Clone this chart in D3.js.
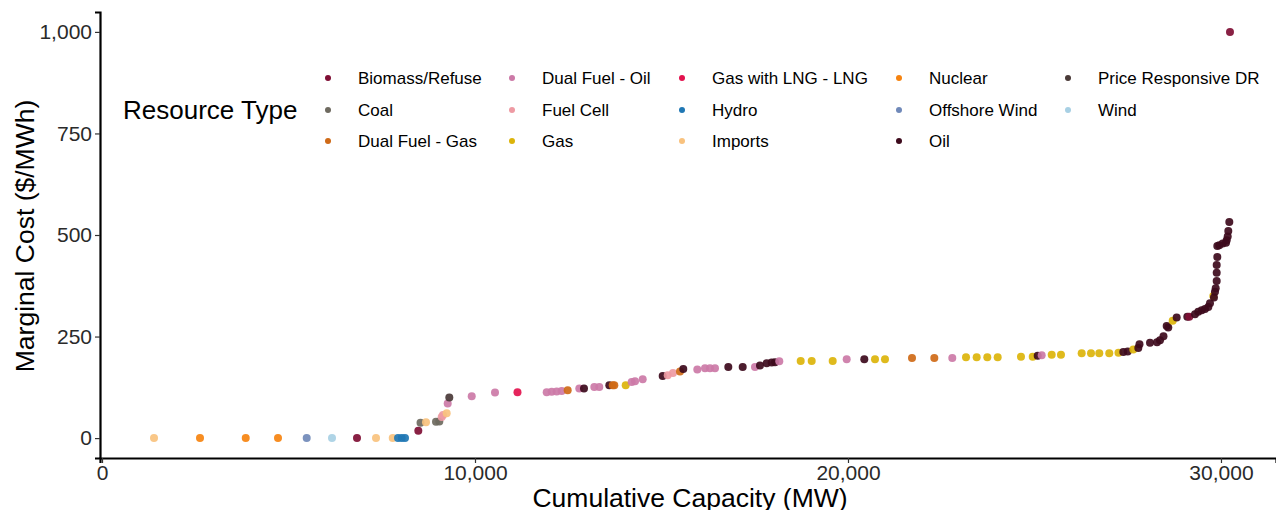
<!DOCTYPE html>
<html>
<head>
<meta charset="utf-8">
<script src="https://cdn.jsdelivr.net/npm/d3@7"></script>
<style>
  html, body { margin: 0; padding: 0; background: #fff; }
  svg { display: block; font-family: "Liberation Sans", Arial, sans-serif; }
</style>
</head>
<body>
<svg id="chart" width="1276" height="510"></svg>
<script>
// Supply stack: resource types in legend order with their colours
const resourceTypes = ["Biomass/Refuse", "Coal", "Dual Fuel - Gas", "Dual Fuel - Oil", "Fuel Cell", "Gas",
  "Gas with LNG - LNG", "Hydro", "Imports", "Nuclear", "Offshore Wind", "Oil", "Price Responsive DR", "Wind"];
const typeColors = ["#7f0e34", "#6e6a60", "#cf6a17", "#cc79a7", "#ee9aa3", "#dcb40a",
  "#e3124e", "#1f77b4", "#f9c27e", "#f6830f", "#7089b9", "#3d0a1c", "#4a3a38", "#a8d0e4"];

// Each unit: cumulative capacity (MW), marginal cost ($/MWh), resource type
const capacityMW = [
  1394, 2627, 3853, 4718, 5488, 6166, 6836, 7346, 7794, 7936, 8035, 8123,
  8480, 8539, 8686, 8954, 9043, 9107, 9142, 9241, 9268, 9311,
  9912, 10536, 11139, 11922, 12056, 12190, 12324, 12485, 12796, 12922,
  13198, 13332, 13601, 13692, 13735, 14040, 14201, 14290, 14496,
  15032, 15166, 15308, 15496, 15584, 15960, 16166, 16300, 16434,
  16791, 17177, 17507, 17641, 17820, 17954, 18043, 18158,
  18732, 19027, 19590, 19965, 20437, 20724, 20992,
  21716, 22314, 22796, 23164, 23450, 23735, 24013, 24638, 24952,
  25086, 25193, 25461, 25710, 26265, 26515, 26737, 27005, 27252,
  27381, 27499, 27649, 27783, 27815, 28097, 28284, 28365, 28458,
  28544, 28587, 28705, 28812, 29097, 29150, 29303, 29391, 29483,
  29571, 29660, 29705, 29794, 29812, 29839, 29858, 29885, 29885,
  29885, 29901, 29901, 29954, 30046, 30134, 30153, 30180, 30196, 30223,
  30241
];
const marginalCost = [
  0, 0, 0, 0, 0, 0, 0, 0, 0, 0, 0, 0,
  18, 38, 39, 40, 41, 52, 57, 61, 85, 100,
  103, 112, 113, 113, 114, 115, 116, 118, 122, 122,
  126, 126, 130, 130, 130, 130, 138, 140, 145,
  153, 155, 160, 164, 170, 169, 172, 172, 172,
  175, 175, 175, 179, 184, 186, 187, 189,
  190, 190, 190, 194, 194, 194, 194,
  197, 197, 197, 199, 199, 199, 199, 200, 200,
  203, 204, 205, 205, 209, 209, 209, 209, 210,
  212, 213, 218, 222, 231, 235, 236, 241, 251,
  276, 272, 289, 297, 299, 299, 305, 311, 315,
  318, 323, 332, 350, 346, 360, 369, 387, 407,
  426, 446, 473, 475, 479, 481, 487, 496, 510, 532,
  1000
];
const resource = [
  "Imports", "Nuclear", "Nuclear", "Nuclear", "Offshore Wind", "Wind", "Biomass/Refuse", "Imports", "Imports", "Hydro", "Hydro", "Hydro",
  "Biomass/Refuse", "Coal", "Imports", "Coal", "Coal", "Fuel Cell", "Fuel Cell", "Imports", "Dual Fuel - Oil", "Price Responsive DR",
  "Dual Fuel - Oil", "Dual Fuel - Oil", "Gas with LNG - LNG", "Dual Fuel - Oil", "Dual Fuel - Oil", "Dual Fuel - Oil", "Dual Fuel - Oil", "Dual Fuel - Gas", "Dual Fuel - Oil", "Oil",
  "Dual Fuel - Oil", "Dual Fuel - Oil", "Oil", "Dual Fuel - Gas", "Dual Fuel - Gas", "Gas", "Dual Fuel - Oil", "Dual Fuel - Oil", "Dual Fuel - Oil",
  "Oil", "Fuel Cell", "Fuel Cell", "Dual Fuel - Gas", "Oil", "Dual Fuel - Oil", "Dual Fuel - Oil", "Dual Fuel - Oil", "Dual Fuel - Oil",
  "Oil", "Oil", "Dual Fuel - Oil", "Oil", "Oil", "Oil", "Oil", "Dual Fuel - Oil",
  "Gas", "Gas", "Gas", "Dual Fuel - Oil", "Oil", "Gas", "Gas",
  "Dual Fuel - Gas", "Dual Fuel - Gas", "Dual Fuel - Oil", "Gas", "Gas", "Gas", "Gas", "Gas", "Gas",
  "Oil", "Dual Fuel - Oil", "Gas", "Gas", "Gas", "Gas", "Gas", "Gas", "Gas",
  "Oil", "Oil", "Gas", "Oil", "Oil", "Oil", "Oil", "Oil", "Oil",
  "Oil", "Oil", "Gas", "Oil", "Oil", "Biomass/Refuse", "Oil", "Oil", "Oil",
  "Oil", "Oil", "Oil", "Gas", "Oil", "Oil", "Oil", "Oil", "Oil",
  "Oil", "Oil", "Oil", "Oil", "Oil", "Oil", "Oil", "Oil", "Oil", "Oil",
  "Biomass/Refuse"
];

const xTicks = [0, 10000, 20000, 30000];
const yTicks = [0, 250, 500, 750, 1000];

const svg = d3.select("#chart");

const x = d3.scaleLinear().domain([-54, 31475]).range([100, 1276]);
const y = d3.scaleLinear().domain([-49, 1049]).range([458, 12]);
const color = d3.scaleOrdinal().domain(resourceTypes).range(typeColors);
const fmt = d3.format(",");

// Axes
const xAxis = svg.append("g").attr("transform", "translate(0,458)")
  .call(d3.axisBottom(x).tickValues(xTicks).tickFormat(fmt).tickSizeOuter(0).tickSize(5).tickPadding(2));
const yAxis = svg.append("g").attr("transform", "translate(100,0)")
  .call(d3.axisLeft(y).tickValues(yTicks).tickFormat(fmt).tickSizeOuter(0).tickSize(5).tickPadding(3));

[xAxis, yAxis].forEach(g => {
  g.select(".domain").attr("stroke", "#000").attr("stroke-width", 2.2);
  g.selectAll(".tick line").attr("stroke", "#333").attr("stroke-width", 1.2);
  g.selectAll(".tick text").attr("fill", "#2a2a2a").style("font-size", "21px")
    .style("font-family", "'Liberation Sans', Arial, sans-serif");
});

// Axis titles
svg.append("text")
  .attr("x", 690).attr("y", 507)
  .attr("text-anchor", "middle")
  .style("font-size", "26.5px").attr("fill", "#000")
  .text("Cumulative Capacity (MW)");
svg.append("text")
  .attr("transform", "translate(34,236) rotate(-90)")
  .attr("text-anchor", "middle")
  .style("font-size", "26.5px").attr("fill", "#000")
  .text("Marginal Cost ($/MWh)");

// Points
const units = capacityMW.map((c, i) => ({ mw: c, cost: marginalCost[i], type: resource[i] }));
svg.append("g").selectAll("circle")
  .data(units)
  .join("circle")
  .attr("cx", d => x(d.mw))
  .attr("cy", d => y(d.cost))
  .attr("r", 4)
  .attr("fill", d => color(d.type))
  .attr("fill-opacity", 0.92);

// Legend
const legend = svg.append("g");
legend.append("text")
  .attr("x", 123).attr("y", 119)
  .style("font-size", "26px").attr("fill", "#000")
  .text("Resource Type");

const colX = [328, 512, 682, 899, 1068];
const rowY = [78, 110, 141];
const items = legend.selectAll("g.item")
  .data(resourceTypes)
  .join("g")
  .attr("class", "item")
  .attr("transform", (d, i) => `translate(${colX[Math.floor(i / 3)]},${rowY[i % 3]})`);
items.append("circle").attr("r", 3).attr("fill", d => color(d));
items.append("text")
  .attr("x", 30).attr("y", 6)
  .style("font-size", "17px").attr("fill", "#000")
  .text(d => d);
</script>
</body>
</html>
